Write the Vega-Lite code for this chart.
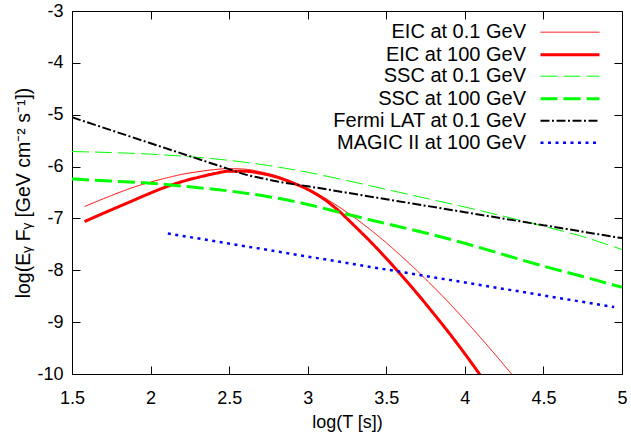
{
  "$schema": "https://vega.github.io/schema/vega-lite/v6.json",
  "width": 550,
  "height": 363,
  "autosize": {"type": "none"},
  "padding": {"left": 72, "top": 11, "right": 9, "bottom": 59},
  "background": "white",
  "config": {
    "view": {"stroke": "black", "strokeWidth": 1},
    "font": "Liberation Sans",
    "axis": {
      "grid": false, "domain": false, "tickColor": "black", "tickSize": -8, "tickWidth": 1,
      "labelColor": "black", "labelFontSize": 18, "labelFont": "Liberation Sans",
      "titleFont": "Liberation Sans", "titleFontSize": 18, "titleFontWeight": "normal", "titleColor": "black"
    }
  },
  "data": {"values": [
    {"s": "EIC at 0.1 GeV", "x": 1.58, "y": -6.77},
    {"s": "EIC at 0.1 GeV", "x": 1.7, "y": -6.62},
    {"s": "EIC at 0.1 GeV", "x": 1.8, "y": -6.50},
    {"s": "EIC at 0.1 GeV", "x": 1.9, "y": -6.39},
    {"s": "EIC at 0.1 GeV", "x": 2.0, "y": -6.30},
    {"s": "EIC at 0.1 GeV", "x": 2.1, "y": -6.22},
    {"s": "EIC at 0.1 GeV", "x": 2.2, "y": -6.15},
    {"s": "EIC at 0.1 GeV", "x": 2.3, "y": -6.10},
    {"s": "EIC at 0.1 GeV", "x": 2.4, "y": -6.06},
    {"s": "EIC at 0.1 GeV", "x": 2.5, "y": -6.04},
    {"s": "EIC at 0.1 GeV", "x": 2.6, "y": -6.05},
    {"s": "EIC at 0.1 GeV", "x": 2.7, "y": -6.10},
    {"s": "EIC at 0.1 GeV", "x": 2.8, "y": -6.18},
    {"s": "EIC at 0.1 GeV", "x": 2.9, "y": -6.29},
    {"s": "EIC at 0.1 GeV", "x": 3.0, "y": -6.43},
    {"s": "EIC at 0.1 GeV", "x": 3.1, "y": -6.59},
    {"s": "EIC at 0.1 GeV", "x": 3.2, "y": -6.78},
    {"s": "EIC at 0.1 GeV", "x": 3.3, "y": -6.99},
    {"s": "EIC at 0.1 GeV", "x": 3.4, "y": -7.22},
    {"s": "EIC at 0.1 GeV", "x": 3.5, "y": -7.47},
    {"s": "EIC at 0.1 GeV", "x": 3.6, "y": -7.74},
    {"s": "EIC at 0.1 GeV", "x": 3.7, "y": -8.02},
    {"s": "EIC at 0.1 GeV", "x": 3.8, "y": -8.32},
    {"s": "EIC at 0.1 GeV", "x": 3.9, "y": -8.63},
    {"s": "EIC at 0.1 GeV", "x": 4.0, "y": -8.96},
    {"s": "EIC at 0.1 GeV", "x": 4.1, "y": -9.30},
    {"s": "EIC at 0.1 GeV", "x": 4.2, "y": -9.65},
    {"s": "EIC at 0.1 GeV", "x": 4.3, "y": -10.01},
    {"s": "EIC at 100 GeV", "x": 1.58, "y": -7.06},
    {"s": "EIC at 100 GeV", "x": 1.7, "y": -6.90},
    {"s": "EIC at 100 GeV", "x": 1.8, "y": -6.77},
    {"s": "EIC at 100 GeV", "x": 1.9, "y": -6.64},
    {"s": "EIC at 100 GeV", "x": 2.0, "y": -6.51},
    {"s": "EIC at 100 GeV", "x": 2.1, "y": -6.39},
    {"s": "EIC at 100 GeV", "x": 2.2, "y": -6.29},
    {"s": "EIC at 100 GeV", "x": 2.3, "y": -6.21},
    {"s": "EIC at 100 GeV", "x": 2.4, "y": -6.14},
    {"s": "EIC at 100 GeV", "x": 2.5, "y": -6.09},
    {"s": "EIC at 100 GeV", "x": 2.6, "y": -6.09},
    {"s": "EIC at 100 GeV", "x": 2.7, "y": -6.13},
    {"s": "EIC at 100 GeV", "x": 2.8, "y": -6.20},
    {"s": "EIC at 100 GeV", "x": 2.9, "y": -6.31},
    {"s": "EIC at 100 GeV", "x": 3.0, "y": -6.44},
    {"s": "EIC at 100 GeV", "x": 3.1, "y": -6.62},
    {"s": "EIC at 100 GeV", "x": 3.2, "y": -6.86},
    {"s": "EIC at 100 GeV", "x": 3.3, "y": -7.15},
    {"s": "EIC at 100 GeV", "x": 3.4, "y": -7.45},
    {"s": "EIC at 100 GeV", "x": 3.5, "y": -7.77},
    {"s": "EIC at 100 GeV", "x": 3.6, "y": -8.11},
    {"s": "EIC at 100 GeV", "x": 3.7, "y": -8.46},
    {"s": "EIC at 100 GeV", "x": 3.8, "y": -8.83},
    {"s": "EIC at 100 GeV", "x": 3.9, "y": -9.21},
    {"s": "EIC at 100 GeV", "x": 4.0, "y": -9.61},
    {"s": "EIC at 100 GeV", "x": 4.1, "y": -10.03},
    {"s": "SSC at 0.1 GeV", "x": 1.5, "y": -5.71},
    {"s": "SSC at 0.1 GeV", "x": 1.75, "y": -5.73},
    {"s": "SSC at 0.1 GeV", "x": 2.0, "y": -5.76},
    {"s": "SSC at 0.1 GeV", "x": 2.25, "y": -5.81},
    {"s": "SSC at 0.1 GeV", "x": 2.5, "y": -5.88},
    {"s": "SSC at 0.1 GeV", "x": 2.75, "y": -5.98},
    {"s": "SSC at 0.1 GeV", "x": 3.0, "y": -6.11},
    {"s": "SSC at 0.1 GeV", "x": 3.25, "y": -6.27},
    {"s": "SSC at 0.1 GeV", "x": 3.5, "y": -6.44},
    {"s": "SSC at 0.1 GeV", "x": 3.75, "y": -6.61},
    {"s": "SSC at 0.1 GeV", "x": 4.0, "y": -6.78},
    {"s": "SSC at 0.1 GeV", "x": 4.25, "y": -6.96},
    {"s": "SSC at 0.1 GeV", "x": 4.5, "y": -7.15},
    {"s": "SSC at 0.1 GeV", "x": 4.75, "y": -7.35},
    {"s": "SSC at 0.1 GeV", "x": 5.0, "y": -7.60},
    {"s": "SSC at 100 GeV", "x": 1.5, "y": -6.24},
    {"s": "SSC at 100 GeV", "x": 1.75, "y": -6.28},
    {"s": "SSC at 100 GeV", "x": 2.0, "y": -6.32},
    {"s": "SSC at 100 GeV", "x": 2.25, "y": -6.39},
    {"s": "SSC at 100 GeV", "x": 2.5, "y": -6.47},
    {"s": "SSC at 100 GeV", "x": 2.75, "y": -6.58},
    {"s": "SSC at 100 GeV", "x": 3.0, "y": -6.73},
    {"s": "SSC at 100 GeV", "x": 3.25, "y": -6.92},
    {"s": "SSC at 100 GeV", "x": 3.5, "y": -7.10},
    {"s": "SSC at 100 GeV", "x": 3.75, "y": -7.28},
    {"s": "SSC at 100 GeV", "x": 4.0, "y": -7.48},
    {"s": "SSC at 100 GeV", "x": 4.25, "y": -7.70},
    {"s": "SSC at 100 GeV", "x": 4.5, "y": -7.92},
    {"s": "SSC at 100 GeV", "x": 4.75, "y": -8.12},
    {"s": "SSC at 100 GeV", "x": 5.0, "y": -8.33},
    {"s": "Fermi LAT at 0.1 GeV", "x": 1.5, "y": -5.05},
    {"s": "Fermi LAT at 0.1 GeV", "x": 2.0, "y": -5.55},
    {"s": "Fermi LAT at 0.1 GeV", "x": 2.5, "y": -6.05},
    {"s": "Fermi LAT at 0.1 GeV", "x": 2.6, "y": -6.15},
    {"s": "Fermi LAT at 0.1 GeV", "x": 2.7, "y": -6.22},
    {"s": "Fermi LAT at 0.1 GeV", "x": 2.8, "y": -6.285},
    {"s": "Fermi LAT at 0.1 GeV", "x": 3.0, "y": -6.38},
    {"s": "Fermi LAT at 0.1 GeV", "x": 3.5, "y": -6.63},
    {"s": "Fermi LAT at 0.1 GeV", "x": 4.0, "y": -6.88},
    {"s": "Fermi LAT at 0.1 GeV", "x": 4.5, "y": -7.13},
    {"s": "Fermi LAT at 0.1 GeV", "x": 5.0, "y": -7.38},
    {"s": "MAGIC II at 100 GeV", "x": 2.11, "y": -7.29},
    {"s": "MAGIC II at 100 GeV", "x": 3.0, "y": -7.735},
    {"s": "MAGIC II at 100 GeV", "x": 4.0, "y": -8.235},
    {"s": "MAGIC II at 100 GeV", "x": 4.95, "y": -8.71}
  ]},
  "layer": [
    {
      "mark": {"type": "line", "clip": true, "interpolate": "monotone"},
      "encoding": {
        "x": {"field": "x", "type": "quantitative",
              "scale": {"domain": [1.5, 5], "nice": false, "zero": false},
              "axis": {"orient": "bottom", "values": [1.5, 2, 2.5, 3, 3.5, 4, 4.5, 5], "labelExpr": "'' + datum.value", "title": "log(T [s])", "labelPadding": 23, "titlePadding": 6, "labelFlush": false}},
        "y": {"field": "y", "type": "quantitative",
              "scale": {"domain": [-10, -3], "nice": false, "zero": false},
              "axis": {"orient": "left", "values": [-10, -9, -8, -7, -6, -5, -4, -3], "labelExpr": "'' + datum.value", "title": "log(Eᵧ Fᵧ [GeV cm⁻² s⁻¹])", "titleFontSize": 19.5, "labelPadding": 17, "titlePadding": 3, "labelFlush": false}},
        "color": {"field": "s", "type": "nominal",
                  "scale": {"domain": ["EIC at 0.1 GeV", "EIC at 100 GeV", "SSC at 0.1 GeV", "SSC at 100 GeV", "Fermi LAT at 0.1 GeV", "MAGIC II at 100 GeV"],
                            "range": ["#ff0000", "#ff0000", "#00ff00", "#00ff00", "#000000", "#0000ff"]},
                  "legend": {"orient": "none", "legendX": 486.5, "legendY": 10.7, "title": null, "symbolType": "M-2.95,0H2.95", "symbolSize": 400, "labelAlign": "right", "labelOffset": -55.5, "labelFontSize": 20, "labelFont": "Liberation Sans", "labelColor": "black", "rowPadding": 0.5, "padding": 0, "labelLimit": 0}},
        "strokeDash": {"field": "s", "type": "nominal",
                  "scale": {"domain": ["EIC at 0.1 GeV", "EIC at 100 GeV", "SSC at 0.1 GeV", "SSC at 100 GeV", "Fermi LAT at 0.1 GeV", "MAGIC II at 100 GeV"],
                            "range": [[1, 0], [1, 0], [17, 6], [17, 6], [9, 2.5, 2, 2.5], [3, 4.5]]}},
        "strokeWidth": {"field": "s", "type": "nominal",
                  "scale": {"type": "ordinal", "domain": ["EIC at 0.1 GeV", "EIC at 100 GeV", "SSC at 0.1 GeV", "SSC at 100 GeV", "Fermi LAT at 0.1 GeV", "MAGIC II at 100 GeV"],
                            "range": [1, 3, 1, 3, 2, 2.5]}}
      }
    },
    {
      "mark": {"type": "line", "strokeOpacity": 0},
      "encoding": {
        "x": {"field": "x", "type": "quantitative",
              "axis": {"orient": "top", "values": [1.5, 2, 2.5, 3, 3.5, 4, 4.5, 5], "labels": false, "title": null}},
        "y": {"field": "y", "type": "quantitative",
              "axis": {"orient": "right", "values": [-10, -9, -8, -7, -6, -5, -4, -3], "labels": false, "title": null}}
      }
    }
  ],
  "resolve": {"axis": {"x": "independent", "y": "independent"}}
}
